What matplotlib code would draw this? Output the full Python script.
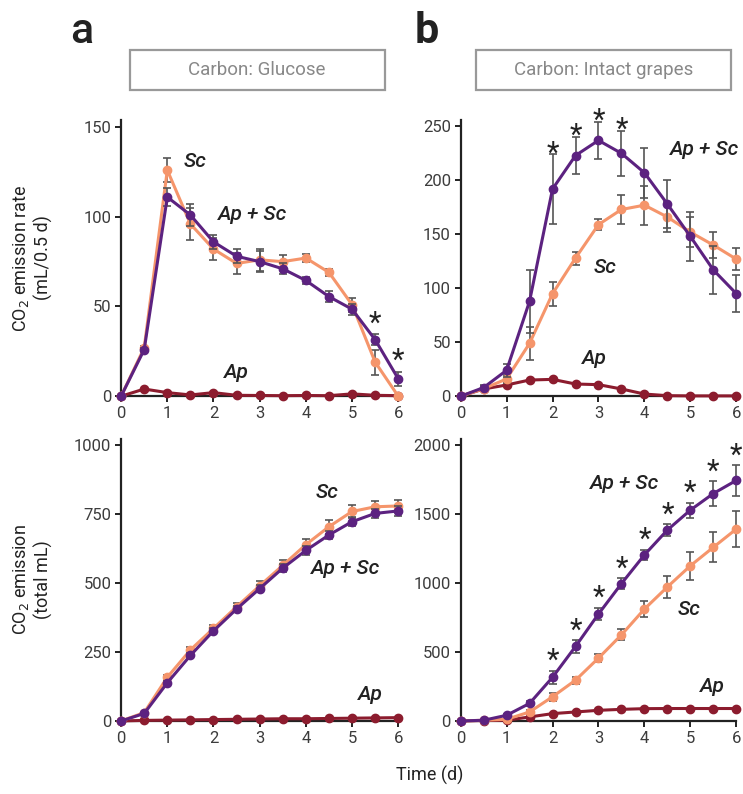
import numpy as np
import matplotlib
matplotlib.use("Agg")
import matplotlib.pyplot as plt
from matplotlib.patches import Rectangle

plt.rcParams['font.family'] = ['Roboto', 'DejaVu Sans']

# ---------------- data ----------------
days = [0, 0.5, 1, 1.5, 2, 2.5, 3, 3.5, 4, 4.5, 5, 5.5, 6]

# a: glucose, emission rate (mL/0.5 d)
glu_rate_sc = [0, 27, 126, 96, 82, 74, 76, 75, 77, 69, 51, 19, 0]
glu_rate_sc_err = [0, 1, 6.5, 9, 6, 6, 6, 3.5, 2, 2, 4, 7, 0]
glu_rate_apsc = [0, 26, 111, 101, 86, 78, 75, 71, 64.5, 55.5, 48.5, 31.5, 9.7]
glu_rate_apsc_err = [0, 1, 5, 6, 4, 4, 6, 3, 2, 3, 3, 3, 4]
glu_rate_ap = [0, 4, 2, 0.7, 2, 0.5, 0.4, 0.3, 0.4, 0.3, 1.3, 0.5, 0.3]

# b: intact grapes, emission rate
gra_rate_sc = [0, 7, 16, 49, 95, 128, 159, 173, 177, 166, 152, 140, 127]
gra_rate_sc_err = [0, 2, 4, 15, 11, 6, 5, 13, 18, 14, 14, 12, 10]
gra_rate_apsc = [0, 8, 24, 88, 192, 223, 237, 225, 207, 178, 148, 117, 95]
gra_rate_apsc_err = [0, 2, 6, 29, 32, 17, 17, 21, 23, 22, 23, 22, 17]
gra_rate_ap = [0, 6.7, 10.4, 15, 15.6, 11.3, 10.7, 6.7, 2, 0.5, 0.3, 0.3, 0.3]

# a: glucose, cumulative emission (total mL)
glu_cum_sc = [0, 30, 158, 257, 335, 413, 489, 563, 638, 703, 758, 775, 778]
glu_cum_sc_err = [0, 3, 8, 10, 12, 15, 18, 20, 22, 25, 25, 22, 20]
glu_cum_apsc = [0, 27, 138, 237, 326, 405, 479, 553, 617, 673, 721, 751, 760]
glu_cum_apsc_err = [0, 3, 6, 8, 10, 12, 14, 15, 15, 16, 16, 15, 18]
glu_cum_ap = [0, 2, 3, 4, 5, 6, 7, 8, 8, 9, 10, 11, 12]

# b: intact grapes, cumulative emission
gra_cum_sc = [0, 5, 12, 65, 175, 295, 455, 623, 810, 970, 1123, 1257, 1389]
gra_cum_sc_err = [0, 2, 5, 12, 30, 25, 28, 40, 60, 80, 100, 110, 130]
gra_cum_apsc = [0, 5, 41, 127, 316, 539, 774, 994, 1202, 1382, 1526, 1646, 1741]
gra_cum_apsc_err = [0, 2, 8, 20, 45, 45, 45, 38, 35, 40, 55, 90, 110]
gra_cum_ap = [0, 3, 5, 29, 53, 65, 77, 84, 89, 90, 90, 90, 90]

# significance stars (days)
glu_rate_stars = [5.5, 6]
gra_rate_stars = [2, 2.5, 3, 3.5]
gra_cum_stars = [2, 2.5, 3, 3.5, 4, 4.5, 5, 5.5, 6]

C_APSC = "#5c2280"
C_SC = "#f5956b"
C_AP = "#8c1c2e"
C_ERR = "#555555"
C_TXT = "#3c3c3c"

fig = plt.figure(figsize=(7.43, 7.94), dpi=100)


def make_ax(rect, ymax, yticks):
    ax = fig.add_axes(rect)
    ax.set_xlim(0, 6)
    ax.set_ylim(0, ymax)
    ax.set_xticks(range(7))
    ax.set_yticks(yticks)
    for s in ["top", "right"]:
        ax.spines[s].set_visible(False)
    for s in ["left", "bottom"]:
        ax.spines[s].set_linewidth(1.6)
        ax.spines[s].set_color("#222222")
    ax.tick_params(direction="out", length=4, width=1.4, colors="#222222",
                   labelcolor=C_TXT, labelsize=12, pad=3)
    return ax


def draw(ax, sc, sc_err, apsc, apsc_err, ap):
    ax.plot(days, ap, "-o", color=C_AP, lw=2.2, ms=6, clip_on=False, zorder=3)
    ax.errorbar(days, sc, yerr=sc_err, fmt="-o", color=C_SC, ecolor=C_ERR,
                elinewidth=1.2, capsize=3, capthick=1.2, lw=2.2, ms=6,
                clip_on=False, zorder=4)
    ax.errorbar(days, apsc, yerr=apsc_err, fmt="-o", color=C_APSC, ecolor=C_ERR,
                elinewidth=1.2, capsize=3, capthick=1.2, lw=2.2, ms=6,
                clip_on=False, zorder=5)


def stars(ax, xs, vals, errs, pad):
    for x in xs:
        i = days.index(x)
        ax.text(x, vals[i] + errs[i] + pad, "*", ha="center", va="bottom",
                fontsize=21, color="#222222", clip_on=False)


lab = dict(fontsize=15, fontstyle="italic", fontweight="medium", color="#222222",
           ha="center", va="center")

# top-left
ax1 = make_ax([0.163, 0.501, 0.373, 0.348], 154, [0, 50, 100, 150])
draw(ax1, glu_rate_sc, glu_rate_sc_err, glu_rate_apsc, glu_rate_apsc_err, glu_rate_ap)
stars(ax1, glu_rate_stars, glu_rate_apsc, glu_rate_apsc_err, -2)
ax1.text(1.6, 131, "Sc", **lab)
ax1.text(2.85, 101, "Ap + Sc", **lab)
ax1.text(2.5, 13, "Ap", **lab)

# top-right
ax2 = make_ax([0.620, 0.501, 0.371, 0.348], 256, [0, 50, 100, 150, 200, 250])
draw(ax2, gra_rate_sc, gra_rate_sc_err, gra_rate_apsc, gra_rate_apsc_err, gra_rate_ap)
stars(ax2, gra_rate_stars, gra_rate_apsc, gra_rate_apsc_err, -12)
ax2.text(5.3, 229, "Ap + Sc", **lab)
ax2.text(3.15, 119, "Sc", **lab)
ax2.text(2.9, 35, "Ap", **lab)

# bottom-left
ax3 = make_ax([0.163, 0.092, 0.373, 0.355], 1020, [0, 250, 500, 750, 1000])
draw(ax3, glu_cum_sc, glu_cum_sc_err, glu_cum_apsc, glu_cum_apsc_err, glu_cum_ap)
ax3.text(4.45, 827, "Sc", **lab)
ax3.text(4.85, 553, "Ap + Sc", **lab)
ax3.text(5.4, 96, "Ap", **lab)

# bottom-right
ax4 = make_ax([0.620, 0.092, 0.371, 0.355], 2040, [0, 500, 1000, 1500, 2000])
draw(ax4, gra_cum_sc, gra_cum_sc_err, gra_cum_apsc, gra_cum_apsc_err, gra_cum_ap)
stars(ax4, gra_cum_stars, gra_cum_apsc, gra_cum_apsc_err, -30)
ax4.text(3.57, 1717, "Ap + Sc", **lab)
ax4.text(4.98, 804, "Sc", **lab)
ax4.text(5.47, 252, "Ap", **lab)

# panel letters and carbon source boxes
fig.text(0.110, 0.960, "a", fontsize=31, fontweight="medium", color="#222222",
         ha="center", va="center")
fig.text(0.575, 0.960, "b", fontsize=31, fontweight="bold", color="#222222",
         ha="center", va="center")
for cx, txt in [(0.346, "Carbon: Glucose"), (0.812, "Carbon: Intact grapes")]:
    fig.patches.append(Rectangle((cx - 0.1715, 0.887), 0.343, 0.050,
                                 transform=fig.transFigure, fill=False,
                                 ec="#999999", lw=1.6))
    fig.text(cx, 0.912, txt, fontsize=13.5, color="#888888",
             ha="center", va="center")

# axis labels
fig.text(0.043, 0.675, "CO$_2$ emission rate\n(mL/0.5 d)", rotation=90,
         fontsize=13, color="#222222", ha="center", va="center", linespacing=1.15)
fig.text(0.043, 0.27, "CO$_2$ emission\n(total mL)", rotation=90,
         fontsize=13, color="#222222", ha="center", va="center", linespacing=1.15)
fig.text(0.578, 0.024, "Time (d)", fontsize=13, color="#222222",
         ha="center", va="center")

fig.savefig("out.png", dpi=100)
